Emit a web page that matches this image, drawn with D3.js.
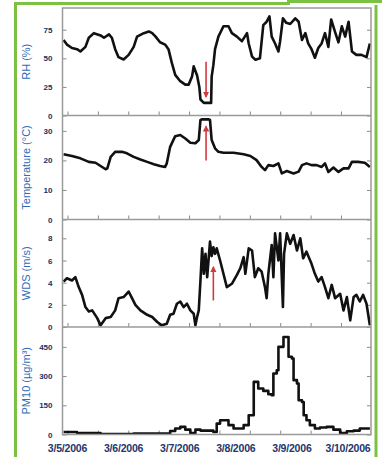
<!DOCTYPE html>
<html>
<head>
<meta charset="utf-8">
<script src="https://cdn.jsdelivr.net/npm/d3@7"></script>
<style>
  body { margin: 0; background: #fff; }
  svg { display: block; }
  .axis text { font-family: "Liberation Sans", Arial, sans-serif; font-weight: bold; font-size: 8px; fill: #1d2f63; }
  .axis line { stroke: #8a8a8a; stroke-width: 1; }
  .axis path { display: none; }
  .ytitle { font-family: "Liberation Sans", Arial, sans-serif; font-size: 11px; fill: #2e6cb5; }
  .xlab { font-family: "Liberation Sans", Arial, sans-serif; font-weight: bold; font-size: 10.5px; fill: #24356b; letter-spacing: -0.2px; }
</style>
</head>
<body>
<svg width="382" height="457"></svg>
<script>
// day offsets from 3/5/2006 00:00, value
const RH = [
  [-0.07, 66], [-0.01, 62], [0.08, 59], [0.17, 58], [0.23, 56], [0.32, 60], [0.38, 68], [0.47, 72],
  [0.59, 70], [0.65, 68], [0.74, 71], [0.79, 68], [0.85, 58], [0.91, 51], [1.00, 49], [1.09, 53],
  [1.18, 60], [1.24, 69], [1.36, 72], [1.45, 73.5], [1.51, 72], [1.57, 69], [1.65, 64], [1.74, 62],
  [1.80, 58], [1.86, 46], [1.92, 35.5], [2.01, 30], [2.10, 27], [2.16, 27], [2.22, 34], [2.25, 43],
  [2.31, 35], [2.35, 25], [2.37, 14], [2.43, 11], [2.51, 11], [2.56, 11], [2.57, 34], [2.60, 44],
  [2.63, 58], [2.69, 69], [2.78, 78], [2.87, 78], [2.93, 72], [3.02, 69], [3.11, 65], [3.20, 72],
  [3.23, 63], [3.29, 51.5], [3.35, 48.7], [3.43, 50], [3.49, 79], [3.55, 82], [3.60, 86.6], [3.64, 69],
  [3.70, 63], [3.76, 56], [3.79, 65], [3.84, 85], [3.90, 81], [3.97, 80], [4.06, 85], [4.12, 82],
  [4.18, 66], [4.24, 72], [4.29, 63], [4.35, 58], [4.41, 50.5], [4.47, 59], [4.53, 63], [4.59, 72],
  [4.65, 60], [4.70, 84], [4.77, 73], [4.83, 64], [4.89, 78], [4.95, 69], [5.01, 82], [5.07, 56],
  [5.15, 53], [5.24, 53], [5.33, 51], [5.39, 63]
]

const TEMP = [
  [-0.07, 22.1], [0.08, 21.5], [0.23, 20.7], [0.38, 19.5], [0.50, 19.2], [0.59, 18.1], [0.68, 17.0],
  [0.71, 17.3], [0.77, 21.2], [0.85, 22.9], [0.97, 22.9], [1.06, 22.4], [1.18, 21.2], [1.30, 20.3],
  [1.42, 19.5], [1.54, 18.7], [1.65, 18.1], [1.74, 17.8], [1.77, 19.0], [1.83, 24.6], [1.92, 28.2],
  [2.01, 28.6], [2.10, 27.4], [2.19, 26.0], [2.28, 25.8], [2.34, 26.9], [2.37, 33.7], [2.40, 33.9],
  [2.52, 33.9], [2.54, 33.7], [2.57, 26.9], [2.63, 24.1], [2.69, 22.9], [2.78, 22.6], [2.96, 22.6],
  [3.14, 22.1], [3.26, 21.5], [3.37, 20.1], [3.46, 17.8], [3.52, 16.7], [3.58, 18.4], [3.67, 18.1],
  [3.76, 19.0], [3.82, 15.6], [3.91, 16.4], [4.03, 15.6], [4.12, 16.2], [4.18, 18.4], [4.26, 19.0],
  [4.35, 18.4], [4.44, 18.4], [4.53, 17.8], [4.59, 19.0], [4.65, 16.1], [4.74, 17.6], [4.83, 16.1],
  [4.92, 17.3], [5.01, 17.3], [5.07, 19.5], [5.18, 19.5], [5.30, 19.2], [5.39, 17.8]
]

const WDS = [
  [-0.07, 4.1], [-0.01, 4.4], [0.08, 4.2], [0.14, 4.5], [0.20, 3.6], [0.26, 2.9], [0.32, 1.8],
  [0.38, 1.4], [0.44, 1.5], [0.53, 0.8], [0.59, 0.15], [0.68, 0.8], [0.77, 0.9], [0.85, 1.5],
  [0.91, 2.6], [1.00, 2.7], [1.09, 3.2], [1.15, 2.6], [1.21, 2.0], [1.30, 1.5], [1.42, 1.1],
  [1.51, 0.9], [1.60, 0.45], [1.68, 0.15], [1.77, 0.3], [1.83, 1.1], [1.89, 1.2], [1.95, 2.1],
  [2.01, 2.3], [2.07, 1.8], [2.13, 2.1], [2.19, 1.5], [2.25, 1.2], [2.28, 0.15], [2.31, 0.9],
  [2.34, 1.5], [2.37, 4.2], [2.40, 7.1], [2.43, 4.8], [2.46, 6.6], [2.49, 4.5], [2.54, 7.7],
  [2.57, 6.4], [2.60, 7.2], [2.63, 6.6], [2.66, 7.1], [2.72, 6.0], [2.78, 4.8], [2.84, 3.6], [2.93, 3.9], [3.02, 4.7],
  [3.08, 5.3], [3.14, 6.3], [3.17, 4.8], [3.23, 7.1], [3.29, 6.9], [3.34, 4.5], [3.40, 5.3],
  [3.46, 5.0], [3.52, 3.6], [3.55, 2.6], [3.58, 4.8], [3.64, 7.4], [3.67, 4.5], [3.70, 8.45],
  [3.76, 6.0], [3.79, 8.45], [3.84, 1.8], [3.86, 6.6], [3.91, 8.45], [3.97, 7.5], [4.03, 8.3],
  [4.09, 6.9], [4.15, 8.0], [4.20, 6.2], [4.26, 6.8], [4.35, 5.7], [4.41, 4.8], [4.47, 4.1],
  [4.53, 4.5], [4.59, 3.6], [4.65, 2.6], [4.71, 3.8], [4.77, 2.6], [4.86, 3.0], [4.92, 1.5],
  [4.98, 2.7], [5.04, 0.6], [5.10, 2.7], [5.15, 2.9], [5.21, 2.3], [5.27, 2.9], [5.33, 2.1],
  [5.39, 0.15]
]

const PM10 = [
  [-0.07, 13], [0.17, 8], [0.59, 2], [1.18, 5], [1.77, 5], [1.83, 18], [1.92, 31], [2.01, 39],
  [2.10, 25], [2.19, 8], [2.28, 25], [2.37, 20], [2.49, 20], [2.60, 13], [2.66, 56], [2.72, 73],
  [2.81, 73], [2.87, 48], [2.96, 31], [3.05, 31], [3.14, 48], [3.23, 99], [3.28, 99], [3.32, 270],
  [3.37, 270], [3.40, 236], [3.49, 224], [3.58, 207], [3.64, 202], [3.67, 313], [3.73, 330],
  [3.76, 450], [3.82, 450], [3.85, 501], [3.91, 501], [3.94, 399], [4.00, 390], [4.03, 279],
  [4.09, 262], [4.12, 176], [4.18, 167], [4.21, 99], [4.26, 73], [4.32, 48], [4.41, 31],
  [4.50, 36], [4.62, 39], [4.74, 25], [4.86, 8], [4.98, 17], [5.10, 20], [5.21, 31], [5.39, 31]
]

const RH_TICKS = [0, 25, 50, 75]
const TEMP_TICKS = [0, 10, 20, 30]
const WDS_TICKS = [0, 2, 4, 6, 8]
const PM10_TICKS = [0, 150, 300, 450]
const DATE_LABELS = ['3/5/2006', '3/6/2006', '3/7/2006', '3/8/2006', '3/9/2006', '3/10/2006']

// red arrows: panel, day, from value, to value
const ARROWS = [
  { panel: 0, day: 2.47, from: 47, to: 16.5 },
  { panel: 1, day: 2.47, from: 20, to: 31.5 },
  { panel: 2, day: 2.60, from: 2.4, to: 5.4 }
]

const DAY0 = new Date(2006, 2, 5)
const toDate = d => new Date(DAY0.getTime() + d * 864e5)

const LEFT = 62.5
const RIGHT = 371
const EDGES = [8, 115.5, 219.5, 327, 434.5]

const svg = d3.select('svg')

// green frame
svg.append('path')
  .attr('d', 'M15.5,457V3.5H290M376,5V457')
  .attr('fill', 'none')
  .attr('stroke', '#7cc242')
  .attr('stroke-width', 3)
svg.append('rect')
  .attr('x', 287).attr('y', 0).attr('width', 95).attr('height', 3)
  .attr('fill', '#7cc242')

const x = d3.scaleTime()
  .domain([toDate(-0.089), toDate(5.41)])
  .range([LEFT, RIGHT])

const tickDates = d3.range(0, 5.4, 13 / 24).map(toDate)

svg.append('clipPath').attr('id', 'clip')
  .append('rect')
  .attr('x', LEFT).attr('y', EDGES[0])
  .attr('width', RIGHT - LEFT).attr('height', EDGES[4] - EDGES[0])

svg.append('defs').append('marker')
  .attr('id', 'head')
  .attr('viewBox', '0 0 10 10')
  .attr('refX', 8).attr('refY', 5)
  .attr('markerWidth', 4).attr('markerHeight', 4)
  .attr('orient', 'auto')
  .append('path')
  .attr('d', 'M0,0L10,5L0,10z')
  .attr('fill', '#d13a3f')

const panels = [
  { title: 'RH (%)', data: RH, max: 94, ticks: RH_TICKS, curve: d3.curveLinear },
  { title: 'Temperature (°C)', data: TEMP, max: 35.2, ticks: TEMP_TICKS, curve: d3.curveLinear },
  { title: 'WDS (m/s)', data: WDS, max: 9.7, ticks: WDS_TICKS, curve: d3.curveLinear },
  { title: 'PM10 (µg/m³)', data: PM10, max: 552, ticks: PM10_TICKS, curve: d3.curveStepAfter }
]

panels.forEach((p, i) => {
  const top = EDGES[i]
  const bottom = EDGES[i + 1]
  const y = d3.scaleLinear().domain([0, p.max]).range([bottom, top])
  p.y = y

  svg.append('g')
    .attr('class', 'axis')
    .attr('transform', `translate(${LEFT},0)`)
    .call(d3.axisLeft(y).tickValues(p.ticks).tickSize(-4).tickPadding(10))

  svg.append('g')
    .attr('class', 'axis')
    .attr('transform', `translate(${RIGHT},0)`)
    .call(d3.axisRight(y).tickValues(p.ticks).tickSize(-4).tickFormat(''))

  svg.append('g')
    .attr('class', 'axis')
    .attr('transform', `translate(0,${bottom})`)
    .call(d3.axisBottom(x).tickValues(tickDates).tickSize(-4).tickFormat(''))

  svg.append('text')
    .attr('class', 'ytitle')
    .attr('transform', `translate(30,${(top + bottom) / 2}) rotate(-90)`)
    .attr('text-anchor', 'middle')
    .text(p.title)

  const line = d3.line()
    .x(d => x(toDate(d[0])))
    .y(d => y(d[1]))
    .curve(p.curve)

  svg.append('path')
    .datum(p.data)
    .attr('clip-path', 'url(#clip)')
    .attr('d', line)
    .attr('fill', 'none')
    .attr('stroke', '#111')
    .attr('stroke-width', 2.6)
    .attr('stroke-linejoin', 'round')
})

// frame and panel separators
svg.append('rect')
  .attr('x', LEFT).attr('y', EDGES[0])
  .attr('width', RIGHT - LEFT).attr('height', EDGES[4] - EDGES[0])
  .attr('fill', 'none')
  .attr('stroke', '#9a9a9a')
  .attr('stroke-width', 1.5)

svg.selectAll('.sep')
  .data(EDGES.slice(1, 4))
  .enter().append('line')
  .attr('x1', LEFT).attr('x2', RIGHT)
  .attr('y1', d => d).attr('y2', d => d)
  .attr('stroke', '#9a9a9a')
  .attr('stroke-width', 1.5)

ARROWS.forEach(a => {
  const y = panels[a.panel].y
  svg.append('line')
    .attr('x1', x(toDate(a.day))).attr('x2', x(toDate(a.day)))
    .attr('y1', y(a.from)).attr('y2', y(a.to))
    .attr('stroke', '#d13a3f')
    .attr('stroke-width', 1.6)
    .attr('marker-end', 'url(#head)')
})

svg.selectAll('.xlab')
  .data(DATE_LABELS)
  .enter().append('text')
  .attr('class', 'xlab')
  .attr('x', (d, i) => x(toDate(i)))
  .attr('y', 452)
  .attr('text-anchor', 'middle')
  .text(d => d)
</script>
</body>
</html>
